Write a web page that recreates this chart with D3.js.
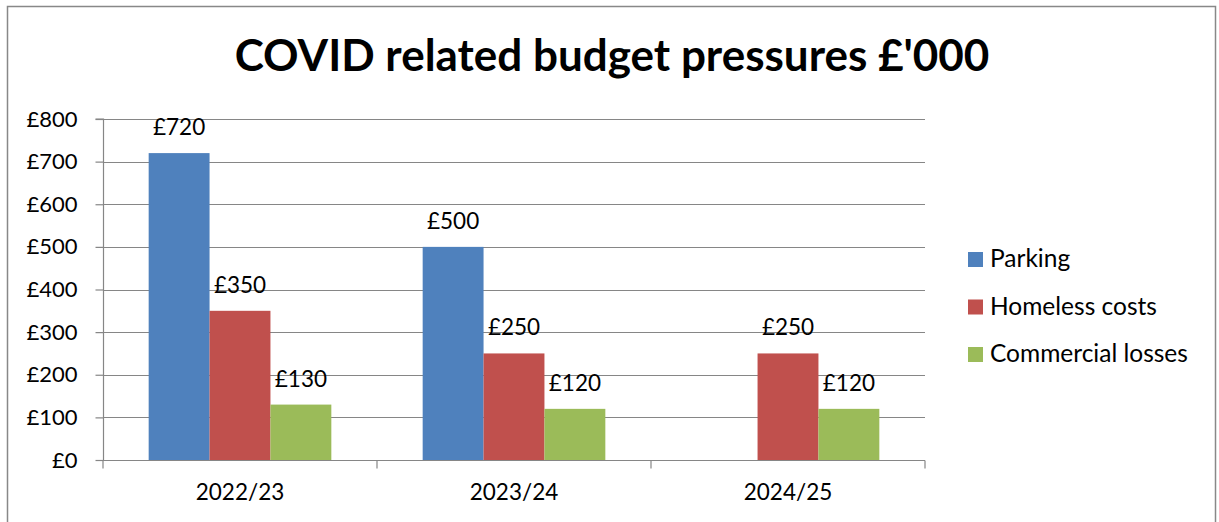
<!DOCTYPE html>
<html>
<head>
<meta charset="utf-8">
<script src="https://cdn.jsdelivr.net/npm/d3@7"></script>
<style>
  body { margin: 0; background: #fff; }
  svg { display: block; font-family: Lato, "Open Sans", sans-serif; }
</style>
</head>
<body>
<svg id="chart" width="1219" height="522"></svg>
<script>
  const categories = ['2022/23', '2023/24', '2024/25'];
  const seriesNames = ['Parking', 'Homeless costs', 'Commercial losses'];
  const parking = [720, 500, null];
  const homeless = [350, 250, 250];
  const commercial = [130, 120, 120];
  const yTicks = [0, 100, 200, 300, 400, 500, 600, 700, 800];
  const colors = ['#4F81BD', '#C0504D', '#9BBB59'];

  const values = [parking, homeless, commercial];

  const svg = d3.select('#chart');

  // outer chart border
  svg.append('rect')
    .attr('x', 7.5).attr('y', 6.5)
    .attr('width', 1208).attr('height', 520)
    .attr('fill', '#fff')
    .attr('stroke', '#888').attr('stroke-width', 1.5);

  svg.append('text')
    .attr('x', 612).attr('y', 71)
    .attr('text-anchor', 'middle')
    .attr('font-size', 44)
    .attr('font-weight', 'bold')
    .text("COVID related budget pressures £'000");

  const plotLeft = 103, plotRight = 925, plotTop = 119, plotBottom = 460;

  const x0 = d3.scaleBand().domain(categories).range([plotLeft, plotRight]).paddingInner(0).paddingOuter(0);
  const x1 = d3.scaleBand().domain(d3.range(seriesNames.length)).range([0, x0.bandwidth()]).paddingInner(0).paddingOuter(0.75);
  const y = d3.scaleLinear().domain([0, 800]).range([plotBottom, plotTop]);

  // gridlines
  svg.append('g')
    .selectAll('line')
    .data(yTicks.slice(1))
    .join('line')
    .attr('x1', plotLeft).attr('x2', plotRight)
    .attr('y1', d => Math.round(y(d)) + 0.5).attr('y2', d => Math.round(y(d)) + 0.5)
    .attr('stroke', '#868686').attr('stroke-width', 1.2);

  // bars
  const groups = svg.append('g')
    .selectAll('g')
    .data(values)
    .join('g')
    .attr('fill', (d, i) => colors[i]);

  groups.selectAll('rect')
    .data((d, si) => d.map((v, ci) => ({ v, ci, si })).filter(e => e.v != null))
    .join('rect')
    .attr('x', d => x0(categories[d.ci]) + x1(d.si))
    .attr('width', x1.bandwidth())
    .attr('y', d => y(d.v))
    .attr('height', d => y(0) - y(d.v));

  // value labels
  groups.selectAll('text')
    .data((d, si) => d.map((v, ci) => ({ v, ci, si })).filter(e => e.v != null))
    .join('text')
    .attr('x', d => x0(categories[d.ci]) + x1(d.si) + x1.bandwidth() / 2)
    .attr('y', d => y(d.v) - 18)
    .attr('text-anchor', 'middle')
    .attr('font-size', 22.5)
    .attr('fill', '#000')
    .text(d => '£' + d.v);

  // y axis
  const yAxis = svg.append('g')
    .attr('transform', `translate(${plotLeft + 0.5},0)`)
    .call(d3.axisLeft(y).tickValues(yTicks).tickSize(8).tickPadding(18).tickFormat(d => '£' + d));
  yAxis.selectAll('line, path').attr('stroke', '#868686').attr('stroke-width', 1.2);
  yAxis.select('path').attr('d', `M-8,${plotTop}H0V${plotBottom}`);
  yAxis.selectAll('text').attr('font-size', 22).attr('fill', '#000').attr('font-family', 'Lato');

  // x axis
  const xAxis = svg.append('g')
    .attr('transform', `translate(0,${plotBottom + 0.5})`)
    .call(d3.axisBottom(x0).tickSize(0).tickPadding(24));
  xAxis.select('path').attr('d', `M${plotLeft},0H${plotRight}`).attr('stroke', '#868686').attr('stroke-width', 1.2);
  xAxis.selectAll('text').attr('font-size', 22.5).attr('fill', '#000').attr('font-family', 'Lato');
  xAxis.append('g')
    .selectAll('line')
    .data([plotLeft, ...categories.map(c => x0(c) + x0.bandwidth())])
    .join('line')
    .attr('x1', d => d).attr('x2', d => d)
    .attr('y1', 0).attr('y2', 8)
    .attr('stroke', '#868686').attr('stroke-width', 1.2);

  // legend
  const legend = svg.append('g')
    .selectAll('g')
    .data(seriesNames)
    .join('g')
    .attr('transform', (d, i) => `translate(968,${252 + i * 47.5})`);
  legend.append('rect')
    .attr('width', 15).attr('height', 15)
    .attr('fill', (d, i) => colors[i]);
  legend.append('text')
    .attr('x', 22).attr('y', 15)
    .attr('font-size', 24.5)
    .text(d => d);
</script>
</body>
</html>
